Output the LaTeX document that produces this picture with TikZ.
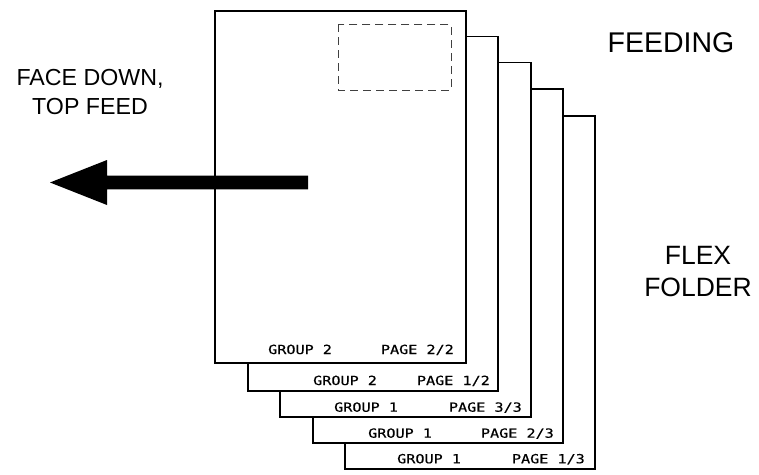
\documentclass[tikz,border=0pt]{standalone}
\usepackage{fontspec}
\setmainfont{Liberation Sans}
\newfontfamily\cadfont[FakeStretch=1.2,FakeBold=0.4]{DejaVu Sans Mono}
\begin{document}
\begin{tikzpicture}[x=1pt,y=-1pt,
  page/.style={draw=black,fill=white,line width=1.2pt},
  frontpage/.style={draw=black,fill=white,line width=2pt},
  lbl/.style={inner sep=0pt,font=\cadfont\fontsize{12.6}{14}\selectfont},
  big/.style={inner sep=0pt,font=\fontsize{26.5}{32}\selectfont,align=center},
  bigger/.style={inner sep=0pt,font=\fontsize{28.5}{32}\selectfont},
  mid/.style={inner sep=0pt,font=\fontsize{23.2}{29}\selectfont,align=center}]
\useasboundingbox (0,0) rectangle (759,474);
% pages, back to front
\draw[page] (345,116) rectangle (595,469);
\draw[page] (313,89) rectangle (563,443);
\draw[page] (280,62.7) rectangle (531,417);
\draw[page] (248,36.7) rectangle (498,391);
\draw[frontpage] (215,10.7) rectangle (466,363);
% dashed window
\draw[black!75,line width=0.9pt,dash pattern=on 8pt off 5pt] (338,24.3) rectangle (451,90);
% labels
\node[lbl,anchor=base west] (g1) at (268,354) {GROUP 2};
\node[lbl,anchor=base east] (p1) at (454,354) {PAGE 2/2};
\node[lbl,anchor=base west] (g2) at (313,385) {GROUP 2};
\node[lbl,anchor=base east] (p2) at (490,385) {PAGE 1/2};
\node[lbl,anchor=base west] (g3) at (334,411.7) {GROUP 1};
\node[lbl,anchor=base east] (p3) at (522,411.7) {PAGE 3/3};
\node[lbl,anchor=base west] (g4) at (368,437.7) {GROUP 1};
\node[lbl,anchor=base east] (p4) at (554,437.7) {PAGE 2/3};
\node[lbl,anchor=base west] (g5) at (397,463.3) {GROUP 1};
\node[lbl,anchor=base east] (p5) at (585,463.3) {PAGE 1/3};
% arrow
\fill[black] (308,175.5) -- (107,175.5) -- (107,160) -- (50,182.5) -- (107,205) -- (107,189.3) -- (308,189.3) -- cycle;
% texts
\node[bigger,anchor=base] (feed) at (671,52.7) {FEEDING};
\node[big,anchor=north] (flex) at (698,246) {FLEX\\FOLDER};
\node[mid,anchor=north] (face) at (90,69) {FACE DOWN,\\TOP FEED};
\end{tikzpicture}
\end{document}
